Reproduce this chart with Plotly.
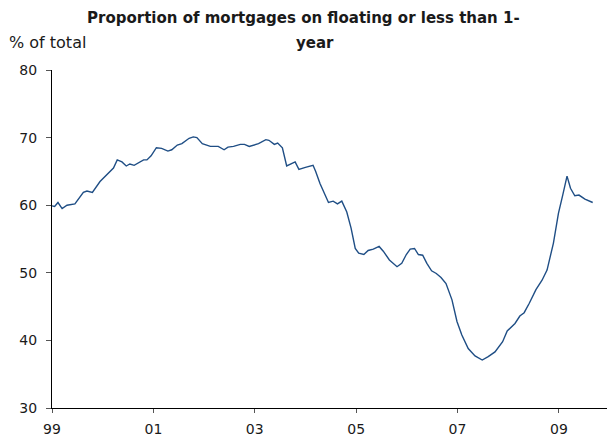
import plotly.graph_objects as go

# ---- data ----
dates = [
    "1999-01-01", "1999-01-20", "1999-02-13", "1999-03-15", "1999-04-19", "1999-06-15",
    "1999-08-15", "1999-09-10", "1999-10-19", "1999-12-13", "2000-03-19", "2000-04-15",
    "2000-05-19", "2000-06-19", "2000-07-15", "2000-08-15", "2000-10-22", "2000-11-15",
    "2000-12-15", "2001-01-22", "2001-03-01", "2001-04-15", "2001-05-13", "2001-06-22",
    "2001-07-25", "2001-09-15", "2001-10-15", "2001-11-10", "2001-12-19", "2002-02-15",
    "2002-04-13", "2002-05-25", "2002-06-22", "2002-08-01", "2002-09-19", "2002-10-19",
    "2002-11-22", "2003-01-28", "2003-03-22", "2003-04-13", "2003-05-22", "2003-06-15",
    "2003-07-19", "2003-08-19", "2003-10-19", "2003-11-15", "2004-01-01", "2004-02-25",
    "2004-03-15", "2004-04-15", "2004-05-22", "2004-06-15", "2004-07-19", "2004-08-19",
    "2004-09-19", "2004-10-25", "2004-11-25", "2004-12-25", "2005-01-19", "2005-02-25",
    "2005-03-28", "2005-05-04", "2005-06-15", "2005-07-15", "2005-08-28", "2005-10-22",
    "2005-11-25", "2005-12-28", "2006-01-25", "2006-02-25", "2006-03-25", "2006-04-25",
    "2006-05-25", "2006-06-28", "2006-08-01", "2006-09-04", "2006-10-10", "2006-11-22",
    "2006-12-28", "2007-02-01", "2007-03-19", "2007-05-07", "2007-06-28", "2007-08-10",
    "2007-09-28", "2007-11-22", "2007-12-25", "2008-02-19", "2008-03-25", "2008-04-25",
    "2008-06-01", "2008-07-19", "2008-09-01", "2008-10-07", "2008-11-22", "2008-12-28",
    "2009-01-28", "2009-02-28", "2009-03-25", "2009-04-25", "2009-05-25", "2009-07-07",
    "2009-09-01",
]
share_floating = [
    59.9, 59.8, 60.4, 59.5, 60.0, 60.2,
    61.9, 62.1, 61.9, 63.5, 65.5, 66.7,
    66.4, 65.8, 66.1, 65.9, 66.7, 66.7,
    67.3, 68.5, 68.4, 68.0, 68.2, 68.9,
    69.1, 69.9, 70.1, 70.0, 69.1, 68.7,
    68.7, 68.2, 68.6, 68.7, 69.0, 69.0,
    68.7, 69.1, 69.7, 69.6, 69.0, 69.2,
    68.5, 65.8, 66.4, 65.3, 65.6, 65.9,
    65.0, 63.2, 61.5, 60.4, 60.6, 60.2,
    60.6, 59.0, 56.6, 53.6, 52.9, 52.7,
    53.3, 53.5, 53.9, 53.2, 51.9, 50.9,
    51.4, 52.7, 53.5, 53.6, 52.7, 52.6,
    51.4, 50.3, 49.9, 49.3, 48.4, 46.0,
    42.8, 40.8, 38.8, 37.7, 37.1, 37.6,
    38.3, 39.8, 41.4, 42.5, 43.6, 44.1,
    45.5, 47.5, 48.9, 50.4, 54.4, 58.8,
    61.5, 64.3, 62.5, 61.4, 61.5, 60.9,
    60.4,
]
x_tick_dates = ["1999-01-01", "2001-01-01", "2003-01-01", "2005-01-01", "2007-01-01", "2009-01-01"]
x_tick_labels = ["99", "01", "03", "05", "07", "09"]
y_ticks = [30, 40, 50, 60, 70, 80]

title_line1 = "Proportion of mortgages on floating or less than 1-"
title_line2 = "year"
y_unit = "% of total"

# ---- layout geometry (pixels) ----
W, H = 607, 441
L, R, T, B = 52, 0, 70, 33
plot_w = W - L - R
plot_h = H - T - B


def px_x(px):
    return (px - L) / plot_w


def px_y(py):
    return (H - B - py) / plot_h


FONT = "DejaVu Sans"
TXT = "#1a1a1a"

fig = go.Figure()
fig.add_trace(go.Scatter(
    x=dates, y=share_floating, mode="lines",
    line=dict(color="#1f4e85", width=1.4),
    hoverinfo="skip", showlegend=False,
))

fig.update_layout(
    width=W, height=H,
    margin=dict(l=L, r=R, t=T, b=B, pad=0),
    paper_bgcolor="white", plot_bgcolor="white",
    font=dict(family=FONT, size=14, color=TXT),
    showlegend=False,
)
fig.update_xaxes(
    type="date", range=["1999-01-01", "2009-12-13"],
    tickmode="array", tickvals=x_tick_dates, ticktext=x_tick_labels,
    showgrid=False, zeroline=False,
    showline=True, linecolor="black", linewidth=1,
    ticks="outside", ticklen=4, tickcolor="#555", tickwidth=1,
    ticklabelstandoff=4,
    tickfont=dict(family=FONT, size=14, color=TXT),
)
fig.update_yaxes(
    range=[30, 80], tickmode="array", tickvals=y_ticks,
    showgrid=False, zeroline=False,
    showline=True, linecolor="black", linewidth=1,
    ticks="outside", ticklen=5, tickcolor="#555", tickwidth=1,
    ticklabelstandoff=6,
    tickfont=dict(family=FONT, size=14, color=TXT),
)

fig.add_annotation(
    text="<b>" + title_line1 + "</b>", x=px_x(303), y=px_y(18),
    xref="paper", yref="paper", xanchor="center", yanchor="middle",
    showarrow=False, font=dict(family=FONT, size=15, color=TXT),
)
fig.add_annotation(
    text="<b>" + title_line2 + "</b>", x=px_x(315), y=px_y(43),
    xref="paper", yref="paper", xanchor="center", yanchor="middle",
    showarrow=False, font=dict(family=FONT, size=15, color=TXT),
)
fig.add_annotation(
    text=y_unit, x=px_x(7), y=px_y(43),
    xref="paper", yref="paper", xanchor="left", yanchor="middle",
    showarrow=False, font=dict(family=FONT, size=16, color=TXT),
)

fig.write_html("out.html")
